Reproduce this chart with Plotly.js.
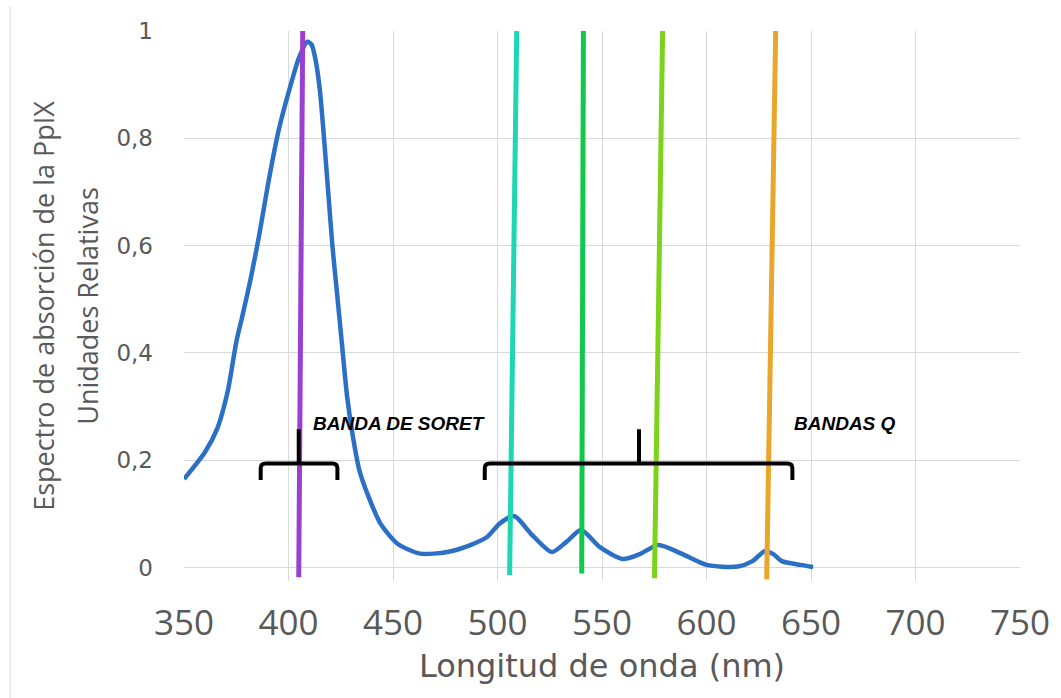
<!DOCTYPE html>
<html>
<head>
<meta charset="utf-8">
<script src="https://cdn.plot.ly/plotly-3.0.1.min.js"></script>
<style>
  html, body { margin: 0; padding: 0; background: #ffffff; }
  #chart { width: 1061px; height: 698px; }
</style>
</head>
<body>
<div id="chart"></div>
<script>
// PpIX absorption spectrum (relative units) vs wavelength (nm)
const wavelength = [350, 360, 366, 371, 375, 378, 382, 386, 390, 395, 400, 405, 409, 411,
  413, 415, 417, 419, 421, 423, 425.5, 428, 431, 434, 438, 444, 452, 463, 476, 487, 495,
  501, 508, 516, 526, 533, 540, 549, 560, 568, 577, 588, 600, 615, 622, 628, 632, 636, 645, 651];
const absorbance = [0.165, 0.215, 0.26, 0.33, 0.42, 0.47, 0.54, 0.62, 0.71, 0.81, 0.885, 0.95, 0.98, 0.975,
  0.945, 0.89, 0.80, 0.70, 0.60, 0.52, 0.42, 0.32, 0.24, 0.18, 0.135, 0.082, 0.045, 0.026, 0.029, 0.042, 0.057,
  0.082, 0.096, 0.063, 0.029, 0.048, 0.070, 0.038, 0.016, 0.025, 0.042, 0.026, 0.005, 0.002, 0.012, 0.031, 0.025, 0.012, 0.005, 0.001];

// Excitation lines: wavelength at the top (y = 1) and at the bottom end
const laserTopNm = [406.8, 509.2, 541.1, 579.0, 633.1];
const laserBottomNm = [404.9, 505.8, 540.3, 575.1, 628.8];
const laserTopY = [1.0, 1.0, 1.0, 1.0, 1.0];
const laserBottomY = [-0.018, -0.014, -0.011, -0.02, -0.022];
const laserColors = ['#9a40d0', '#1ed6b2', '#10c94c', '#7dd31c', '#e8a72c'];

// Braces marking the Soret band and the Q bands
const braceLabels = ['BANDA DE SORET', 'BANDAS Q'];
const braceLeft = [386.7, 493.9];
const braceRight = [423.4, 641.1];
const braceStem = [404.9, 567.7];
const braceLevel = 0.194;
const braceEnd = 0.163;
const braceStemTop = 0.258;
const labelX = [410.6, 641.1];
const labelY = [0.269, 0.269];

const xTicks = [350, 400, 450, 500, 550, 600, 650, 700, 750];
const yTicks = [0, 0.2, 0.4, 0.6, 0.8, 1];
const yTickText = ['0', '0,2', '0,4', '0,6', '0,8', '1'];

const grey = '#595959';

const traces = [{
  x: wavelength,
  y: absorbance,
  type: 'scatter',
  mode: 'lines',
  line: { color: '#2b70c5', width: 4.5, shape: 'spline', smoothing: 0.7 },
  hoverinfo: 'x+y'
}];

laserTopNm.forEach((top, i) => {
  traces.push({
    x: [top, laserBottomNm[i]],
    y: [laserTopY[i], laserBottomY[i]],
    type: 'scatter',
    mode: 'lines',
    line: { color: laserColors[i], width: 5 },
    hoverinfo: 'x'
  });
});

// brace outline with rounded corners, in data units
function bracePath(left, right, stem) {
  const rx = 2.4, ry = 0.009;
  return 'M ' + left + ',' + braceEnd +
    ' L ' + left + ',' + (braceLevel - ry) +
    ' Q ' + left + ',' + braceLevel + ' ' + (left + rx) + ',' + braceLevel +
    ' L ' + (right - rx) + ',' + braceLevel +
    ' Q ' + right + ',' + braceLevel + ' ' + right + ',' + (braceLevel - ry) +
    ' L ' + right + ',' + braceEnd +
    ' M ' + stem + ',' + braceLevel + ' L ' + stem + ',' + braceStemTop;
}

const shapes = braceLeft.map((l, i) => ({
  type: 'path',
  xref: 'x', yref: 'y',
  path: bracePath(l, braceRight[i], braceStem[i]),
  line: { color: '#000000', width: 4 },
  layer: 'above'
}));

// outer chart-area edge
shapes.push({
  type: 'line', xref: 'paper', yref: 'paper',
  x0: -0.208, x1: -0.208, y0: 1.045, y1: -0.22,
  line: { color: '#d9d9d9', width: 1 }
});

const annotations = braceLabels.map((t, i) => ({
  text: '<b><i>' + t + '</i></b>',
  x: labelX[i], y: labelY[i],
  xref: 'x', yref: 'y',
  xanchor: 'left', yanchor: 'middle',
  showarrow: false,
  font: { family: 'Liberation Sans, Arial, sans-serif', size: 19, color: '#000000' }
}));

const layout = {
  width: 1061,
  height: 698,
  margin: { l: 184, r: 41, t: 31, b: 117 },
  paper_bgcolor: '#ffffff',
  plot_bgcolor: '#ffffff',
  showlegend: false,
  xaxis: {
    range: [350, 750],
    tickvals: xTicks,
    ticktext: xTicks.map(String),
    showgrid: true,
    gridcolor: '#d9d9d9',
    gridwidth: 1,
    zeroline: false,
    showline: false,
    ticks: '',
    ticklabelstandoff: 18,
    tickfont: { family: 'Open Sans, sans-serif', size: 35, color: grey },
    title: {
      text: 'Longitud de onda (nm)',
      font: { family: 'DejaVu Sans, sans-serif', size: 32, color: grey },
      standoff: 10
    },
    automargin: false
  },
  yaxis: {
    range: [-0.025, 1.0],
    tickvals: yTicks,
    ticktext: yTickText,
    showgrid: true,
    gridcolor: '#d9d9d9',
    gridwidth: 1,
    zeroline: false,
    showline: false,
    ticks: '',
    ticklabelstandoff: 30,
    tickfont: { family: 'DejaVu Sans, sans-serif', size: 23, color: grey },
    title: {
      text: '<span style="font-size:27px">Espectro de absorción de la PpIX</span><br><span style="font-size:27px">Unidades Relativas</span>',
      font: { family: 'Open Sans, sans-serif', size: 34, color: grey },
      standoff: 7
    },
    automargin: false
  },
  shapes: shapes,
  annotations: annotations
};

Plotly.newPlot('chart', traces, layout, { displayModeBar: false, staticPlot: true });
</script>
</body>
</html>
